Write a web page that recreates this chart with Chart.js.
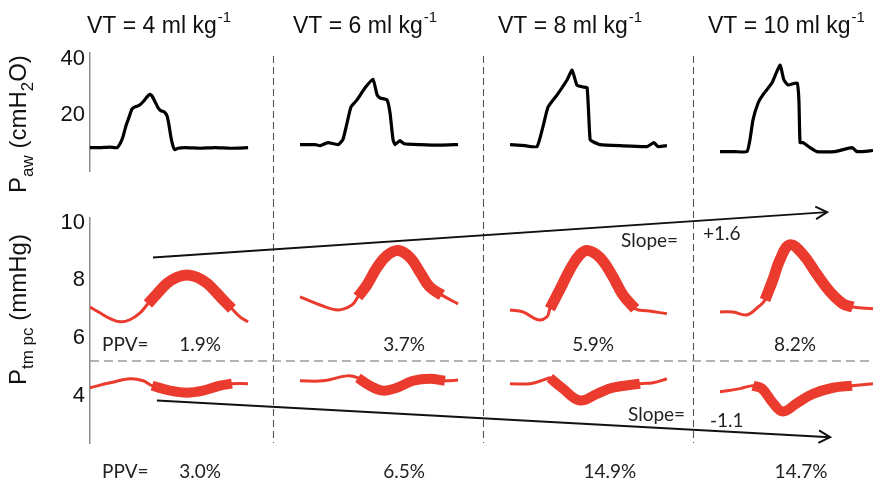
<!DOCTYPE html>
<html>
<head>
<meta charset="utf-8">
<script src="https://cdn.jsdelivr.net/npm/chart.js@4.4.0/dist/chart.umd.min.js"></script>
<style>
  html, body { margin: 0; padding: 0; background: #fff; }
  #wrap { position: relative; width: 873px; height: 482px; }
  #pawChart { position: absolute; left: 0; top: 0; }
  #ptmChart { position: absolute; left: 0; top: 200px; }
</style>
</head>
<body>
<div id="wrap">
  <canvas id="pawChart" width="873" height="200"></canvas>
  <canvas id="ptmChart" width="873" height="282"></canvas>
</div>
<script>
// tidal volume of each recording window (ml/kg)
const tidalVolumes = [4, 6, 8, 10]
// each recording gets its own 7 s slot on the shared time axis
const windowLength = 7
const separatorTimes = [6.1, 13.1, 20.1]

// airway pressure, cmH2O  -  [seconds from window start, value]
const paw4 = [[0, 8.3], [0.33, 8.3], [0.67, 8.5], [0.9, 8.3], [1.0, 9.7], [1.1, 12.2], [1.2, 16.1], [1.27, 18.2],
  [1.4, 22.1], [1.5, 22.8], [1.6, 23.2], [1.7, 23.9], [1.8, 25.0], [1.9, 26.4], [2.0, 27.3], [2.07, 26.7],
  [2.17, 24.6], [2.27, 22.5], [2.37, 21.4], [2.47, 21.1], [2.57, 19.6], [2.63, 16.5], [2.7, 11.9], [2.77, 8.7],
  [2.83, 7.6], [2.93, 8.1], [3.17, 8.3], [3.67, 8.1], [4.17, 8.3], [4.67, 8.1], [5.27, 8.3]]
const paw6 = [[0, 9.4], [0.5, 9.4], [0.67, 9.0], [0.93, 10.1], [1.27, 9.4], [1.43, 11.2], [1.57, 17.2], [1.7, 22.8],
  [1.9, 25.3], [2.17, 29.6], [2.43, 32.7], [2.57, 27.1], [2.67, 26.0], [2.9, 25.3], [3.0, 20.7], [3.1, 11.2],
  [3.17, 9.4], [3.33, 10.8], [3.47, 9.7], [4.0, 9.4], [4.67, 9.2], [5.27, 9.4]]
const paw8 = [[0, 9.4], [0.5, 9.0], [0.9, 8.7], [1.1, 15.8], [1.27, 22.8], [1.57, 27.1], [1.9, 32.4], [2.07, 35.9],
  [2.23, 30.6], [2.43, 29.9], [2.57, 29.6], [2.67, 11.2], [2.77, 10.4], [3.0, 9.4], [3.67, 9.0], [4.57, 8.7],
  [4.8, 10.1], [4.93, 8.7], [5.23, 9.0]]
const paw10 = [[0, 6.9], [0.5, 6.9], [0.9, 6.9], [1.0, 11.2], [1.1, 18.2], [1.27, 24.2], [1.43, 27.1], [1.73, 31.3],
  [2.0, 37.7], [2.13, 32.4], [2.27, 30.6], [2.57, 31.3], [2.63, 25.3], [2.67, 10.1], [2.77, 10.1], [3.0, 8.3],
  [3.23, 6.9], [3.83, 6.9], [4.4, 8.3], [4.57, 6.9], [5.1, 7.3]]
const pawTraces = [paw4, paw6, paw8, paw10]

// transmural pericardial pressure, mmHg - expiratory hold (upper) and inspiratory hold (lower)
const ptmUp4 = [[0, 7.08], [0.33, 6.88], [0.67, 6.68], [1.0, 6.57], [1.33, 6.64], [1.67, 6.88], [1.93, 7.19],
  [2.23, 7.53], [2.57, 7.90], [2.9, 8.11], [3.23, 8.19], [3.57, 8.11], [3.9, 7.90], [4.23, 7.56], [4.5, 7.26],
  [4.73, 7.02], [5.0, 6.74], [5.27, 6.57]]
const ptmUp6 = [[0, 7.43], [0.67, 7.15], [1.27, 6.98], [1.73, 7.15], [1.93, 7.43], [2.23, 7.84], [2.57, 8.45],
  [2.9, 8.86], [3.27, 9.03], [3.67, 8.79], [4.0, 8.28], [4.33, 7.77], [4.73, 7.49], [5.27, 7.19]]
const ptmUp8 = [[0, 6.98], [0.43, 6.91], [0.93, 6.64], [1.23, 6.74], [1.33, 7.02], [1.67, 7.70], [2.0, 8.38],
  [2.33, 8.89], [2.6, 9.03], [3.0, 8.79], [3.4, 8.18], [3.77, 7.49], [4.17, 7.02], [4.57, 6.95], [5.23, 6.85]]
const ptmUp10 = [[0, 6.91], [0.43, 6.91], [0.9, 6.81], [1.27, 7.08], [1.5, 7.32], [1.77, 8.04], [2.0, 8.72],
  [2.33, 9.23], [2.77, 8.89], [3.23, 8.21], [3.67, 7.60], [4.1, 7.19], [4.43, 7.08], [5.1, 7.02]]
const ptmLow4 = [[0, 4.29], [0.67, 4.46], [1.33, 4.60], [1.77, 4.53], [2.07, 4.36], [2.67, 4.19], [3.23, 4.12],
  [3.77, 4.19], [4.33, 4.36], [4.73, 4.43], [5.27, 4.43]]
const ptmLow6 = [[0, 4.53], [0.77, 4.53], [1.57, 4.70], [1.93, 4.63], [2.33, 4.36], [2.77, 4.19], [3.23, 4.29],
  [3.77, 4.53], [4.33, 4.60], [4.83, 4.53], [5.27, 4.56]]
const ptmLow8 = [[0, 4.43], [0.67, 4.43], [1.23, 4.60], [1.33, 4.63], [1.73, 4.29], [2.33, 3.85], [2.9, 4.08],
  [3.43, 4.29], [4.33, 4.43], [4.77, 4.46], [5.23, 4.60]]
const ptmLow10 = [[0, 4.15], [0.67, 4.26], [1.1, 4.36], [1.4, 4.26], [1.77, 3.76], [2.1, 3.47], [2.57, 3.76],
  [3.1, 4.08], [3.77, 4.29], [4.4, 4.36], [5.1, 4.43]]
const ptmUpper = [ptmUp4, ptmUp6, ptmUp8, ptmUp10]
const ptmLower = [ptmLow4, ptmLow6, ptmLow8, ptmLow10]
// beat used for the PPV calculation (drawn heavy), seconds from window start
const beatUpper = [[1.93, 4.73], [1.93, 4.73], [1.33, 4.17], [1.5, 4.43]]
const beatLower = [[2.07, 4.73], [1.93, 4.83], [1.33, 4.33], [1.1, 4.4]]

const ppvUpper = ['1.9%', '3.7%', '5.9%', '8.2%']
const ppvLower = ['3.0%', '6.5%', '14.9%', '14.7%']
const slopeUpper = '+1.6'
const slopeLower = '-1.1'
// trend arrows, [time (s), mmHg]
const trendUpper = [[2.1, 8.79], [24.57, 10.36]]
const trendLower = [[2.23, 3.85], [24.67, 2.58]]
const holdDivider = 5.21

const pawTicks = [20, 40]
const ptmTicks = [4, 6, 8, 10]

const RED = '#ea3b2e'
const SANS = '"Liberation Sans", Arial, sans-serif'
const TEXT = 'Lato, "Open Sans", sans-serif'

function toXY(trace, k) {
  return trace.map(([t, v]) => ({ x: k * windowLength + t, y: v }))
}
function slice(trace, win) {
  return trace.filter(([t]) => t >= win[0] - 1e-6 && t <= win[1] + 1e-6)
}

function yScale(min, max, ticks) {
  return {
    min: min, max: max,
    afterFit: (s) => { s.width = 90 },
    afterBuildTicks: (s) => { s.ticks = ticks.map(v => ({ value: v })) },
    grid: { display: false, drawTicks: false },
    border: { display: true, color: '#8c8c8c', width: 1.5 },
    ticks: { color: '#111', padding: 5, font: { family: SANS, size: 22 } }
  }
}

function drawSeparators(ctx, chart, y0, y1) {
  const x = chart.scales.x
  ctx.save()
  ctx.strokeStyle = '#555'
  ctx.lineWidth = 1.1
  ctx.setLineDash([7, 4])
  for (let t of separatorTimes) {
    const px = Math.round(x.getPixelForValue(t)) + 0.5
    ctx.beginPath()
    ctx.moveTo(px, y0)
    ctx.lineTo(px, y1)
    ctx.stroke()
  }
  ctx.restore()
}

// rotated axis title made of [text, isSubscript] pieces
function drawRotated(ctx, x, y, parts) {
  ctx.save()
  ctx.translate(x, y)
  ctx.rotate(-Math.PI / 2)
  ctx.fillStyle = '#111'
  ctx.textAlign = 'left'
  ctx.textBaseline = 'alphabetic'
  let cx = 0
  for (let [text, sub] of parts) {
    ctx.font = (sub ? 17 : 24) + 'px ' + SANS
    ctx.fillText(text, cx, sub ? 7 : 0)
    cx += ctx.measureText(text).width
  }
  ctx.restore()
}

const pawDecor = {
  id: 'pawDecor',
  beforeDatasetsDraw(chart) {
    drawSeparators(chart.ctx, chart, chart.chartArea.top + 3, chart.height)
  },
  afterDraw(chart) {
    const ctx = chart.ctx
    const titleX = [87, 293, 498, 708]
    ctx.save()
    ctx.fillStyle = '#111'
    ctx.textBaseline = 'alphabetic'
    tidalVolumes.forEach((vt, i) => {
      const main = 'VT = ' + vt + ' ml kg'
      ctx.font = '23px ' + SANS
      ctx.fillText(main, titleX[i], 33)
      const w = ctx.measureText(main).width
      ctx.font = '15px ' + SANS
      ctx.fillText('-1', titleX[i] + w + 1, 22)
    })
    ctx.restore()
    drawRotated(ctx, 26, 193, [['P'], ['aw', 1], [' (cmH'], ['2', 1], ['O)']])
  }
}

const ptmDecor = {
  id: 'ptmDecor',
  beforeDatasetsDraw(chart) {
    drawSeparators(chart.ctx, chart, 0, chart.chartArea.bottom)
  },
  afterDatasetsDraw(chart) {
    const ctx = chart.ctx
    // open arrowheads on the trend lines
    chart.data.datasets.forEach((ds, i) => {
      if (!ds.arrow) return
      const pts = chart.getDatasetMeta(i).data
      const a = pts[pts.length - 2], b = pts[pts.length - 1]
      const ang = Math.atan2(b.y - a.y, b.x - a.x)
      ctx.save()
      ctx.strokeStyle = '#111'
      ctx.lineWidth = 2
      ctx.beginPath()
      ctx.moveTo(b.x - 13 * Math.cos(ang - 0.5), b.y - 13 * Math.sin(ang - 0.5))
      ctx.lineTo(b.x, b.y)
      ctx.lineTo(b.x - 13 * Math.cos(ang + 0.5), b.y - 13 * Math.sin(ang + 0.5))
      ctx.stroke()
      ctx.restore()
    })
  },
  afterDraw(chart) {
    const ctx = chart.ctx
    const x = chart.scales.x
    const upperX = [3.67, 10.47, 16.77, 23.5]
    const lowerX = [3.67, 10.47, 17.33, 23.7]
    ctx.save()
    ctx.fillStyle = '#222'
    ctx.font = '19px ' + TEXT
    ctx.textBaseline = 'alphabetic'
    ctx.textAlign = 'left'
    ctx.fillText('PPV=', 102, 151)
    ctx.fillText('PPV=', 102, 278)
    ctx.fillText('Slope=', 621, 47)
    ctx.fillText(slopeUpper, 703, 40)
    ctx.fillText('Slope=', 628, 221)
    ctx.fillText(slopeLower, 710, 227)
    ctx.textAlign = 'center'
    ppvUpper.forEach((s, i) => ctx.fillText(s, x.getPixelForValue(upperX[i]), 151))
    ppvLower.forEach((s, i) => ctx.fillText(s, x.getPixelForValue(lowerX[i]), 278))
    ctx.restore()
    drawRotated(ctx, 26, 185, [['P'], ['tm pc', 1], [' (mmHg)']])
  }
}

const common = {
  responsive: false,
  animation: false,
  events: [],
  plugins: { legend: { display: false }, tooltip: { enabled: false } },
  elements: { point: { radius: 0 } }
}

new Chart(document.getElementById('pawChart'), {
  type: 'line',
  data: {
    datasets: pawTraces.map((tr, k) => ({
      data: toXY(tr, k),
      borderColor: '#000',
      borderWidth: 3.2,
      tension: 0.15,
      borderJoinStyle: 'round'
    }))
  },
  options: Object.assign({}, common, {
    layout: { padding: { top: 53, bottom: 29, left: 0, right: 0 } },
    scales: {
      x: { type: 'linear', min: 0, max: 26.1, display: false },
      y: yScale(0, 42, pawTicks)
    }
  }),
  plugins: [pawDecor]
})

let ptmSets = []
for (let k = 0; k < 4; k++) {
  ptmSets.push({ data: toXY(ptmUpper[k], k), borderColor: RED, borderWidth: 3, tension: 0.4, order: 1 })
  ptmSets.push({ data: toXY(ptmLower[k], k), borderColor: RED, borderWidth: 3, tension: 0.4, order: 1 })
  ptmSets.push({ data: toXY(slice(ptmUpper[k], beatUpper[k]), k), borderColor: RED, borderWidth: 11,
    tension: 0.4, borderCapStyle: 'butt', order: 0 })
  ptmSets.push({ data: toXY(slice(ptmLower[k], beatLower[k]), k), borderColor: RED, borderWidth: 10,
    tension: 0.4, borderCapStyle: 'butt', order: 0 })
}
ptmSets.push({ data: [{ x: 0, y: holdDivider }, { x: 26.1, y: holdDivider }], borderColor: '#9a9a9a',
  borderWidth: 1.5, borderDash: [9, 5], order: 2 })
for (let tr of [trendUpper, trendLower]) {
  ptmSets.push({ data: tr.map(([t, v]) => ({ x: t, y: v })), borderColor: '#111', borderWidth: 2,
    clip: false, arrow: true, order: 0 })
}

new Chart(document.getElementById('ptmChart'), {
  type: 'line',
  data: { datasets: ptmSets },
  options: Object.assign({}, common, {
    layout: { padding: { top: 15, bottom: 39, left: 0, right: 0 } },
    scales: {
      x: { type: 'linear', min: 0, max: 26.1, display: false },
      y: yScale(2.38, 10.15, ptmTicks)
    }
  }),
  plugins: [ptmDecor]
})
</script>
</body>
</html>
